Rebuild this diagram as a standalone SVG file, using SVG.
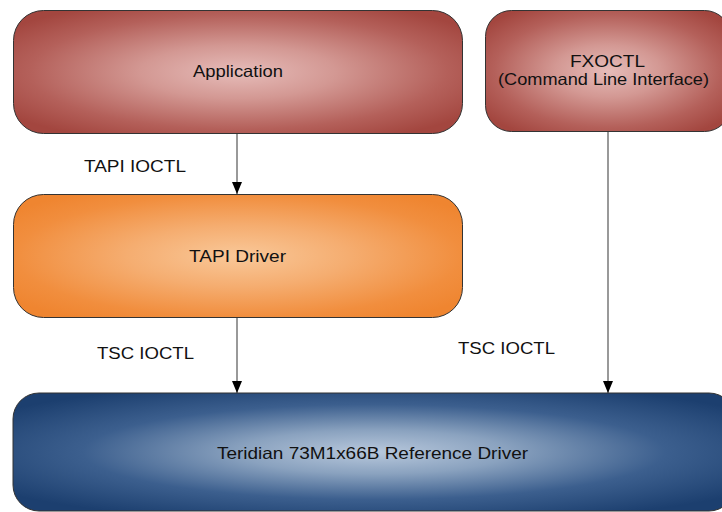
<svg xmlns="http://www.w3.org/2000/svg" width="722" height="512" viewBox="0 0 722 512">
<defs>
<radialGradient id="gRed" cx="50%" cy="50%" r="62%">
<stop offset="0" stop-color="#e6bcb9"/>
<stop offset="0.35" stop-color="#d39893"/>
<stop offset="0.75" stop-color="#b4605a"/>
<stop offset="1" stop-color="#a3463f"/>
</radialGradient>
<radialGradient id="gOrange" cx="50%" cy="50%" r="62%">
<stop offset="0" stop-color="#f9c899"/>
<stop offset="0.4" stop-color="#f5ad70"/>
<stop offset="0.8" stop-color="#f18e3e"/>
<stop offset="1" stop-color="#ef8530"/>
</radialGradient>
<radialGradient id="gBlue" cx="50%" cy="50%" r="62%">
<stop offset="0" stop-color="#b8c8dc"/>
<stop offset="0.3" stop-color="#8aa2bf"/>
<stop offset="0.65" stop-color="#3c5f8e"/>
<stop offset="1" stop-color="#1c3f6f"/>
</radialGradient>
<marker id="ah" viewBox="0 0 12 10" refX="12" refY="5" markerWidth="12" markerHeight="10" markerUnits="userSpaceOnUse" orient="auto">
<path d="M0,0 L12,5 L0,10 Z" fill="#000"/>
</marker>
</defs>
<style>
.box{stroke:#333;stroke-width:1}
.t{font-family:"Liberation Sans",Arial,sans-serif;font-size:16.5px;fill:#111}
.c{stroke:#555;stroke-width:1.2;fill:none}
</style>
<g id="connectors">
<line class="c" x1="237" y1="133" x2="237" y2="194" marker-end="url(#ah)"/>
<line class="c" x1="237" y1="318" x2="237" y2="393" marker-end="url(#ah)"/>
<line class="c" x1="608" y1="132" x2="608" y2="393" marker-end="url(#ah)"/>
<text class="t" x="84" y="172" textLength="102" lengthAdjust="spacingAndGlyphs">TAPI IOCTL</text>
<text class="t" x="97" y="359" textLength="97" lengthAdjust="spacingAndGlyphs">TSC IOCTL</text>
<text class="t" x="458" y="354" textLength="97" lengthAdjust="spacingAndGlyphs">TSC IOCTL</text>
</g>
<g id="application">
<rect class="box" x="13.5" y="10.5" width="449" height="123" rx="30" ry="30" fill="url(#gRed)"/>
<text class="t" x="193" y="77" textLength="90" lengthAdjust="spacingAndGlyphs">Application</text>
</g>
<g id="fxoctl">
<rect class="box" x="485.5" y="10.5" width="245" height="121" rx="26" ry="26" fill="url(#gRed)"/>
<text class="t" x="570" y="67" textLength="75" lengthAdjust="spacingAndGlyphs">FXOCTL</text>
<text class="t" x="498" y="85" textLength="211" lengthAdjust="spacingAndGlyphs">(Command Line Interface)</text>
</g>
<g id="tapi-driver">
<rect class="box" x="13.5" y="194.5" width="449" height="123" rx="30" ry="30" fill="url(#gOrange)"/>
<text class="t" x="189" y="262" textLength="97" lengthAdjust="spacingAndGlyphs">TAPI Driver</text>
</g>
<g id="teridian">
<rect class="box" x="13" y="393" width="722" height="118" rx="26" ry="26" fill="url(#gBlue)"/>
<text class="t" x="217" y="459" textLength="311" lengthAdjust="spacingAndGlyphs">Teridian 73M1x66B Reference Driver</text>
</g>
</svg>
